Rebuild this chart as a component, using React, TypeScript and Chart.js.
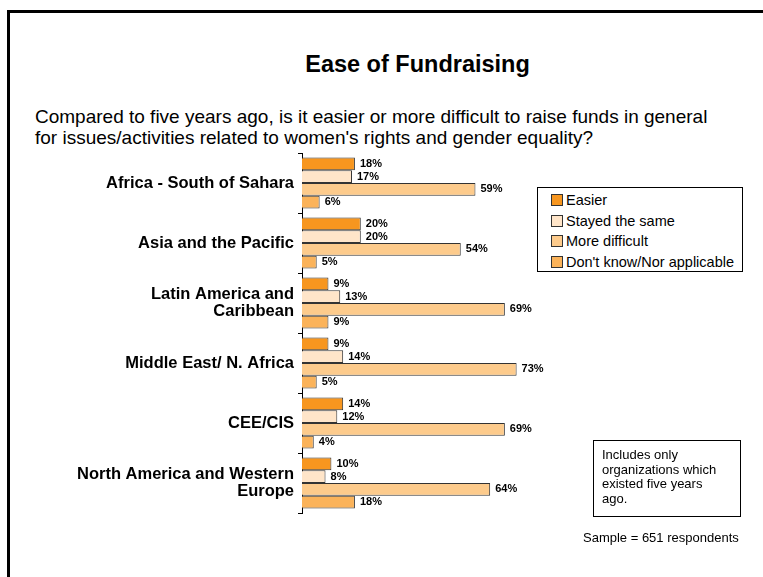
import React, { useEffect, useRef } from "react";
import { Chart, registerables } from "chart.js";

Chart.register(...registerables);

const categories: (string | string[])[] = [
  "Africa - South of Sahara",
  "Asia and the Pacific",
  ["Latin America and", "Caribbean"],
  "Middle East/ N. Africa",
  "CEE/CIS",
  ["North America and Western", "Europe"],
];

const seriesNames = ["Easier", "Stayed the same", "More difficult", "Don't know/Nor applicable"];
const easier = [18, 20, 9, 9, 14, 10];
const stayedSame = [17, 20, 13, 14, 12, 8];
const moreDifficult = [59, 54, 69, 73, 69, 64];
const dontKnow = [6, 5, 9, 5, 4, 18];
const seriesColors = ["#F7961F", "#FFE5C9", "#FDCB8C", "#FBB35A"];

const FONT = "Arial, 'Liberation Sans', sans-serif";

const labelPlugin = {
  id: "barLabels",
  afterDatasetsDraw(chart: any) {
    const ctx = chart.ctx;
    ctx.save();
    ctx.font = `bold 11px ${FONT}`;
    ctx.fillStyle = "#000";
    ctx.textBaseline = "middle";
    ctx.textAlign = "left";
    chart.data.datasets.forEach((ds: any, i: number) => {
      const meta = chart.getDatasetMeta(i);
      meta.data.forEach((el: any, j: number) => {
        ctx.fillText(ds.data[j] + "%", el.x + 5, el.y);
      });
    });
    ctx.restore();
  },
};

export default function App() {
  const ref = useRef<HTMLCanvasElement>(null);
  useEffect(() => {
    if (!ref.current) return;
    const data = [easier, stayedSame, moreDifficult, dontKnow];
    const chart = new Chart(ref.current, {
      type: "bar",
      data: {
        labels: categories as any,
        datasets: data.map((d, i) => ({
          label: seriesNames[i],
          data: d,
          backgroundColor: seriesColors[i],
          borderColor: "#333",
          borderWidth: 1,
          categoryPercentage: 0.85,
          barPercentage: 1.0,
        })),
      },
      options: {
        indexAxis: "y",
        responsive: false,
        animation: false,
        layout: { padding: { left: 0, top: 153, bottom: 64, right: 167 } },
        plugins: { legend: { display: false }, title: { display: false }, tooltip: { enabled: false } },
        scales: {
          x: { display: false, min: 0, max: 100 },
          y: {
            afterFit: (scale: any) => {
              scale.width = 302;
            },
            grid: { drawOnChartArea: false, drawTicks: true, tickLength: 4, offset: true, color: "#000" },
            border: { display: true, color: "#000", width: 1 },
            ticks: {
              color: "#000",
              padding: 4,
              font: { family: FONT, size: 16.5, weight: "bold", lineHeight: 1.05 },
            },
          },
        },
      },
      plugins: [labelPlugin],
    });
    return () => chart.destroy();
  }, []);

  return (
    <div style={{ position: "fixed", left: 0, top: 0, width: 763, height: 577, overflow: "hidden", background: "#fff", fontFamily: FONT }}>
      <div style={{ position: "absolute", left: 7, top: 10, width: 900, height: 900, border: "3px solid #000" }} />
      <div style={{ position: "absolute", left: 0, top: 51, width: 835, textAlign: "center", fontSize: 23.5, fontWeight: "bold", color: "#000" }}>
        Ease of Fundraising
      </div>
      <div style={{ position: "absolute", left: 35, top: 106, fontSize: 19, lineHeight: "21px", color: "#000", whiteSpace: "nowrap" }}>
        Compared to five years ago, is it easier or more difficult to raise funds in general
        <br />
        for issues/activities related to women's rights and gender equality?
      </div>
      <canvas ref={ref} width={763} height={577} style={{ position: "absolute", left: 0, top: 0, width: 763, height: 577 }} />
      <div style={{ position: "absolute", left: 537, top: 187, width: 204, height: 83, border: "1px solid #000", background: "#fff" }}>
        {seriesNames.map((n, i) => (
          <div key={n} style={{ position: "absolute", left: 13, top: 2 + i * 20.7, height: 20, display: "flex", alignItems: "center", fontSize: 14.5, whiteSpace: "nowrap" }}>
            <span style={{ display: "inline-block", width: 10, height: 10, border: "1px solid #333", background: seriesColors[i], marginRight: 3 }} />
            {n}
          </div>
        ))}
      </div>
      <div style={{ position: "absolute", left: 593, top: 440, width: 138, height: 68, border: "1px solid #000", paddingLeft: 8, fontSize: 13, lineHeight: "14.5px", paddingTop: 7, boxSizing: "content-box" as any }}>
        Includes only<br />organizations which<br />existed five years<br />ago.
      </div>
      <div style={{ position: "absolute", left: 583, top: 530, fontSize: 13, whiteSpace: "nowrap" }}>Sample = 651 respondents</div>
    </div>
  );
}
